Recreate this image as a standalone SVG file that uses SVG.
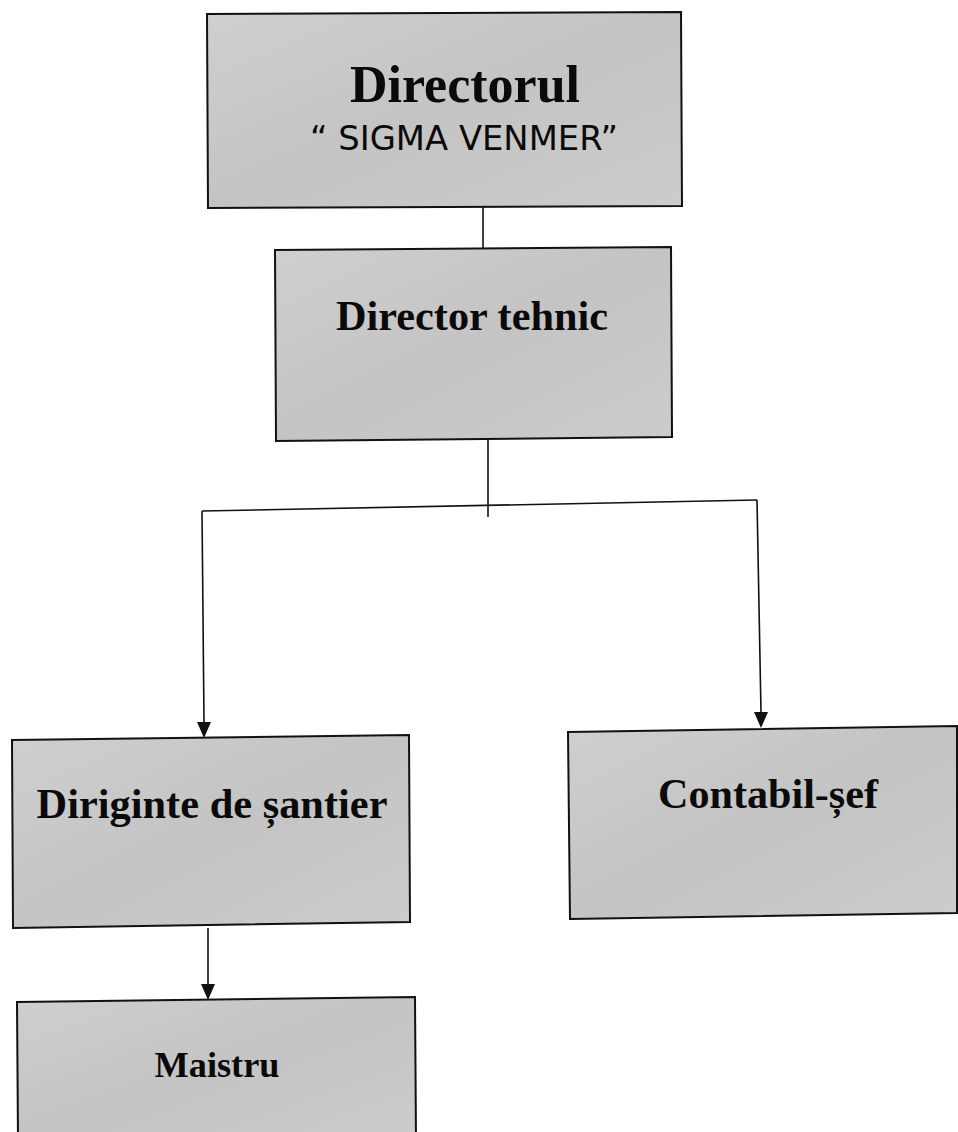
<svg xmlns="http://www.w3.org/2000/svg" width="958" height="1132" viewBox="0 0 958 1132">
<style>
.box{fill:#c8c8c8;stroke:#111;stroke-width:2}
.t{font-family:"Liberation Serif","Times New Roman",serif;font-weight:bold;fill:#0a0a0a;text-anchor:middle}
.s{font-family:"DejaVu Sans","Liberation Sans",sans-serif;fill:#0a0a0a;text-anchor:middle}
.c{fill:none;stroke:#111;stroke-width:1.6}
</style>
<defs>
<linearGradient id="g" x1="0" y1="0" x2="1" y2="1">
<stop offset="0" stop-color="#cfcfcf"/>
<stop offset="0.5" stop-color="#c4c4c4"/>
<stop offset="1" stop-color="#cccccc"/>
</linearGradient>
<marker id="ah" viewBox="0 0 14 16" refX="7" refY="16" markerWidth="14" markerHeight="16" markerUnits="userSpaceOnUse" orient="auto-start-reverse">
<path d="M0,0 L14,0 L7,16 Z" fill="#111"/>
</marker>
</defs>
<rect width="958" height="1132" fill="#ffffff"/>
<g id="connectors">
<line class="c" x1="483" y1="207" x2="483" y2="250"/>
<line class="c" x1="488" y1="440" x2="488" y2="517"/>
<line class="c" x1="202" y1="511" x2="757" y2="500"/>
<path class="c" d="M202,511 L204,722" style="marker-end:none"/>
<polygon points="197,722 211,722 204,738" fill="#111"/>
<path class="c" d="M757,500 L761,712"/>
<polygon points="754,712 768,712 761,728" fill="#111"/>
<line class="c" x1="208" y1="928" x2="208" y2="984"/>
<polygon points="201,984 215,984 208,1000" fill="#111"/>
</g>
<g id="directorul">
<polygon class="box" style="fill:url(#g)" points="207,14 681,12 682,206 208,208"/>
<text class="t" x="465" y="102" font-size="52">Directorul</text>
<text class="s" x="464" y="150" font-size="33" textLength="308" lengthAdjust="spacingAndGlyphs">“ SIGMA VENMER”</text>
</g>
<g id="director-tehnic">
<polygon class="box" style="fill:url(#g)" points="275,250 671,247 672,437 276,441"/>
<text class="t" x="472" y="330" font-size="42" textLength="272" lengthAdjust="spacingAndGlyphs">Director tehnic</text>
</g>
<g id="diriginte">
<polygon class="box" style="fill:url(#g)" points="12,740 409,735 410,922 13,928"/>
<text class="t" x="212" y="818" font-size="42" textLength="351" lengthAdjust="spacingAndGlyphs">Diriginte de șantier</text>
</g>
<g id="contabil">
<polygon class="box" style="fill:url(#g)" points="568,732 957,726 957,913 570,919"/>
<text class="t" x="768" y="808" font-size="42" textLength="220" lengthAdjust="spacingAndGlyphs">Contabil-șef</text>
</g>
<g id="maistru">
<polygon class="box" style="fill:url(#g)" points="17,1002 415,997 416,1140 18,1140"/>
<text class="t" x="217" y="1077" font-size="36" textLength="125" lengthAdjust="spacingAndGlyphs">Maistru</text>
</g>
</svg>
